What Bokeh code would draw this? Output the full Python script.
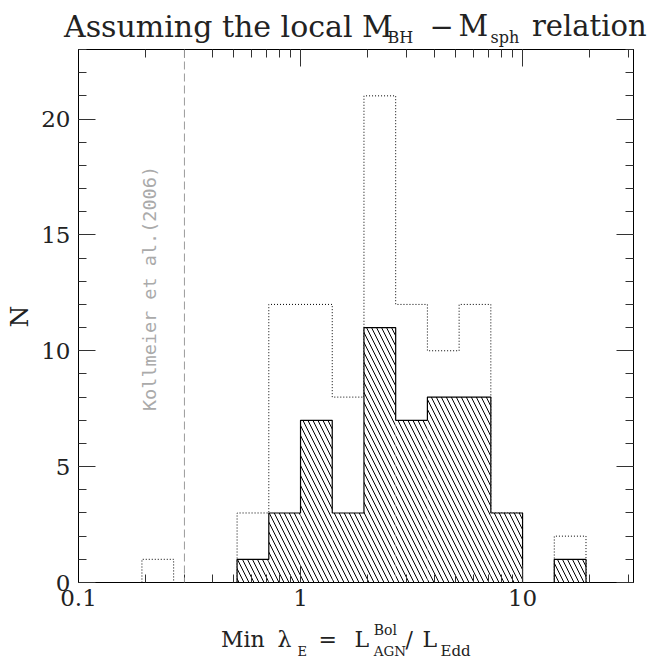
import numpy as np
from bokeh.plotting import figure
from bokeh.layouts import row, column
from bokeh.models import (LogAxis, LinearAxis, LogTicker, SingleIntervalTicker,
                          Span, Range1d)
from bokeh.core.properties import value
from bokeh.embed import file_html
from bokeh.resources import INLINE

# ---------------- data ----------------
# histogram bins: left edge of bin k is 10**(k*BIN_DEX)
BIN_DEX = 1.0 / 7.0
bin_index = [-5, -4, -3, -2, -1, 0, 1, 2, 3, 4, 5, 6, 7, 8]
counts_all = [1, 0, 0, 3, 12, 12, 8, 21, 12, 10, 12, 3, 0, 2]      # dotted histogram
counts_local = [0, 0, 0, 1, 3, 7, 3, 11, 7, 8, 8, 3, 0, 1]         # hatched histogram
x_ticks = [0.1, 1, 10]
x_tick_labels = ["0.1", "1", "10"]
y_tick_interval = 5
x_limits = [0.1, 31.6]
y_limits = [0, 23]
kollmeier_lambda = 0.3
kollmeier_text = "Kollmeier et al.(2006)"

# ---------------- helpers ----------------
lefts = [10 ** (k * BIN_DEX) for k in bin_index]
rights = [10 ** ((k + 1) * BIN_DEX) for k in bin_index]


def outline(ls, rs, cs):
    xs, ys = [], []
    prev_zero = True
    for l, r, c in zip(ls, rs, cs):
        if c == 0:
            if not prev_zero:
                xs += [xs[-1], np.nan]
                ys += [0, np.nan]
            prev_zero = True
            continue
        if prev_zero:
            xs.append(l)
            ys.append(0)
        xs += [l, r]
        ys += [c, c]
        prev_zero = False
    if not prev_zero:
        xs.append(xs[-1])
        ys.append(0)
    return xs, ys


def txt(fig, s, x, y, size, angle=0.0, align="left", baseline="alphabetic",
        font="DejaVu Serif", color="#222222"):
    fig.text(x=[x], y=[y], text=[s], text_font=value(font),
             text_font_size=value(f"{size}px"), text_color=color,
             text_align=align, text_baseline=baseline, angle=angle)


def blank(width, height, xr, yr):
    f = figure(width=width, height=height, x_range=Range1d(*xr), y_range=Range1d(*yr),
               min_border=0, toolbar_location=None, output_backend="svg",
               x_axis_location=None, y_axis_location=None,
               background_fill_color="white", border_fill_color="white")
    f.outline_line_color = None
    f.grid.visible = False
    f.frame_align = False
    return f


LEFT_W = 38
TOTAL_W = 651
TITLE_H = 47
XLAB_H = 40
TOP_B, BOT_B, LEFT_B, RIGHT_B = 2, 36, 39, 19
FW, FH = 555, 533
MAIN_H = TOP_B + FH + BOT_B
TOTAL_H = TITLE_H + MAIN_H + XLAB_H

# ---------------- main plot ----------------
p = figure(x_axis_type="log",
           x_range=Range1d(*x_limits), y_range=Range1d(*y_limits),
           frame_width=FW, frame_height=FH,
           min_border_left=LEFT_B, min_border_right=RIGHT_B,
           min_border_top=TOP_B, min_border_bottom=BOT_B,
           output_backend="svg", toolbar_location=None,
           background_fill_color="white", border_fill_color="white")
p.xgrid.visible = False
p.ygrid.visible = False
p.outline_line_color = "black"
p.outline_line_width = 1
p.frame_align = False

bottom = p.below[0]
left = p.left[0]

# dotted histogram
dx, dy = outline(lefts, rights, counts_all)
p.line(dx, dy, line_color="black", line_width=1, line_dash="1 2")

# hatched histogram
p.quad(left=lefts, right=rights, top=counts_local, bottom=0,
       fill_color="white", line_color=None,
       hatch_pattern="\\", hatch_color="black", hatch_scale=10, hatch_weight=1)
hx, hy = outline(lefts, rights, counts_local)
p.line(hx, hy, line_color="black", line_width=1.2)

# Kollmeier line and label
p.add_layout(Span(location=kollmeier_lambda, dimension="height",
                  line_color="#9a9a9a", line_dash="8 4", line_width=1))
txt(p, kollmeier_text, 0.209, 7.4, 18.5, angle=np.pi / 2, align="left",
    baseline="middle", font="DejaVu Sans Mono", color="#aaaaaa")

# axes
xticker = LogTicker(num_minor_ticks=10)
yticker = SingleIntervalTicker(interval=y_tick_interval, num_minor_ticks=5)

bottom.ticker = xticker
bottom.major_label_overrides = {t: s for t, s in zip(x_ticks, x_tick_labels)}
left.ticker = yticker

top = LogAxis(ticker=xticker)
right = LinearAxis(ticker=yticker)
p.add_layout(top, "above")
p.add_layout(right, "right")

for ax in [bottom, left, top, right]:
    ax.major_tick_in = 17
    ax.major_tick_out = 0
    ax.minor_tick_in = 8
    ax.minor_tick_out = 0
    ax.axis_line_color = "black"
    ax.major_tick_line_color = "#333333"
    ax.minor_tick_line_color = "#333333"
    ax.major_label_text_font = "DejaVu Serif"
    ax.major_label_text_font_size = "23px"
    ax.major_label_text_color = "#222222"

for ax in [top, right]:
    ax.major_label_text_color = None
    ax.major_label_text_font_size = "0px"
    ax.major_label_standoff = 0

bottom.major_label_standoff = 7
left.major_label_standoff = 8

# ---------------- title strip ----------------
title = blank(TOTAL_W - LEFT_W, TITLE_H, (LEFT_W, TOTAL_W), (TITLE_H, 0))
txt(title, "Assuming the local M", 63.5, 25.8, 30)
txt(title, "BH", 387, 36.6, 16)
txt(title, "\u2212", 429, 25.8, 29)
txt(title, "M", 458, 25.8, 29)
txt(title, "sph", 490, 36.6, 16)
txt(title, "relation", 531.5, 25.8, 29)

# ---------------- x label strip ----------------
y0 = TITLE_H + MAIN_H
xlab = blank(TOTAL_W - LEFT_W, XLAB_H, (LEFT_W, TOTAL_W), (TOTAL_H, y0))
txt(xlab, "Min", 220.5, 639.3, 22)
txt(xlab, "\u03bb", 277, 639.3, 22)
txt(xlab, "E", 297, 651, 13)
txt(xlab, "=", 318, 639.3, 22)
txt(xlab, "L", 354, 639.3, 22)
txt(xlab, "Bol", 373.3, 629.3, 14)
txt(xlab, "AGN", 373.3, 650, 13.5)
txt(xlab, "/", 405, 639.3, 22)
txt(xlab, "L", 422, 639.3, 22)
txt(xlab, "Edd", 440, 650, 15)

# ---------------- y label strip ----------------
ylab = blank(LEFT_W, TOTAL_H, (0, LEFT_W), (TOTAL_H, 0))
txt(ylab, "N", 18.8, 316, 25, angle=np.pi / 2, align="center", baseline="middle")

layout = row(ylab, column(title, p, xlab, spacing=0), spacing=0)

open("out.html", "w").write(file_html(layout, INLINE))
